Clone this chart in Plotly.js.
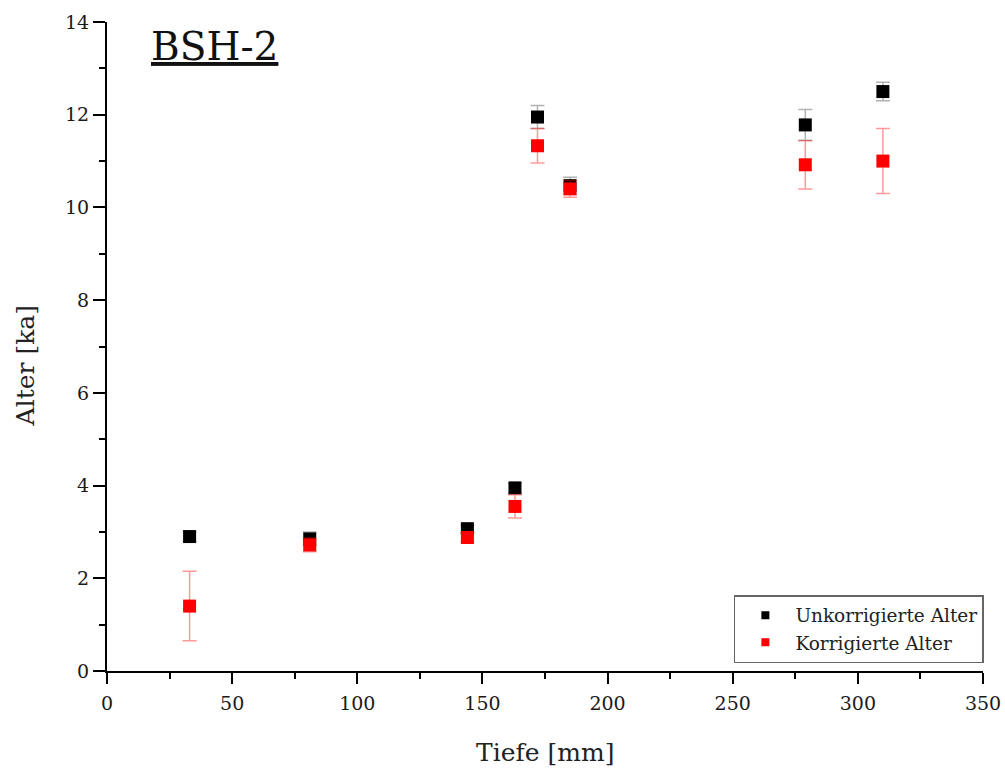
<!DOCTYPE html>
<html>
<head>
<meta charset="utf-8">
<script src="https://cdn.plot.ly/plotly-3.0.1.min.js"></script>
<style>html,body{margin:0;padding:0;background:#fff;}#chart{width:1005px;height:771px;}</style>
</head>
<body>
<div id="chart"></div>
<script>
var depth = [33, 81, 144, 163, 172, 185, 279, 310];
var ageUncorrected = [2.9, 2.85, 3.07, 3.95, 11.95, 10.47, 11.78, 12.5];
var errUncorrected = [0.1, 0.15, 0.08, 0.1, 0.25, 0.18, 0.33, 0.2];
var ageCorrected = [1.4, 2.72, 2.88, 3.55, 11.33, 10.4, 10.92, 11.0];
var errCorrected = [0.75, 0.15, 0.1, 0.25, 0.37, 0.18, 0.52, 0.7];
var seriesNames = ['Unkorrigierte Alter', 'Korrigierte Alter'];
var xTicks = [0, 50, 100, 150, 200, 250, 300, 350];
var yTicks = [0, 2, 4, 6, 8, 10, 12, 14];

var serif = '"DejaVu Serif", serif';

var traces = [
  {
    x: depth, y: ageUncorrected, type: 'scatter', mode: 'markers',
    name: seriesNames[0], showlegend: false,
    marker: {symbol: 'square', size: 13, color: '#000'},
    error_y: {type: 'data', array: errUncorrected, visible: true, color: 'rgba(0,0,0,0.3)', thickness: 1.5, width: 7}
  },
  {
    x: depth, y: ageCorrected, type: 'scatter', mode: 'markers',
    name: seriesNames[1], showlegend: false,
    marker: {symbol: 'square', size: 13, color: '#ff0000'},
    error_y: {type: 'data', array: errCorrected, visible: true, color: 'rgba(255,0,0,0.4)', thickness: 1.5, width: 7}
  },
  {
    x: [null], y: [null], type: 'scatter', mode: 'markers', name: seriesNames[0],
    marker: {symbol: 'square', size: 8, color: '#000'}
  },
  {
    x: [null], y: [null], type: 'scatter', mode: 'markers', name: seriesNames[1],
    marker: {symbol: 'square', size: 8, color: '#ff0000'}
  }
];

var layout = {
  width: 1005, height: 771,
  margin: {l: 107, r: 22, t: 22, b: 100},
  paper_bgcolor: '#fff', plot_bgcolor: '#fff',
  showlegend: true,
  font: {family: serif, color: '#222'},
  xaxis: {
    range: [0, 350], tickvals: xTicks, ticktext: xTicks.map(String),
    showgrid: false, zeroline: false, showline: true, linecolor: '#000', linewidth: 2,
    ticks: 'outside', ticklen: 11, tickwidth: 2, tickcolor: '#000',
    minor: {dtick: 25, tick0: 0, ticks: 'outside', ticklen: 6, tickwidth: 2, tickcolor: '#000'},
    tickfont: {family: serif, size: 19, color: '#1a1a1a'},
    ticklabelstandoff: 3,
    automargin: false
  },
  yaxis: {
    range: [0, 14], tickvals: yTicks, ticktext: yTicks.map(String),
    showgrid: false, zeroline: false, showline: true, linecolor: '#000', linewidth: 2,
    ticks: 'outside', ticklen: 12, tickwidth: 2, tickcolor: '#000',
    minor: {dtick: 1, tick0: 0, ticks: 'outside', ticklen: 6, tickwidth: 2, tickcolor: '#000'},
    tickfont: {family: serif, size: 19, color: '#1a1a1a'},
    automargin: false
  },
  legend: {
    x: 1.001, xanchor: 'right', y: 0.012, yanchor: 'bottom',
    bgcolor: '#fff', bordercolor: '#666', borderwidth: 1.5,
    font: {family: serif, size: 18.5, color: '#222'},
    itemwidth: 50, tracegroupgap: 2
  },
  annotations: [
    {
      text: '<u>BSH-2</u>', xref: 'paper', yref: 'paper', x: 0.048, y: 1.0,
      xanchor: 'left', yanchor: 'top', showarrow: false,
      font: {family: serif, size: 39, color: '#111'}
    },
    {
      text: 'Tiefe [mm]', xref: 'paper', yref: 'paper', x: 0.5, y: -0.125,
      xanchor: 'center', yanchor: 'middle', showarrow: false,
      font: {family: serif, size: 25, color: '#222'}
    },
    {
      text: 'Alter [ka]', xref: 'paper', yref: 'paper', x: -0.092, y: 0.47,
      xanchor: 'center', yanchor: 'middle', showarrow: false, textangle: -90,
      font: {family: serif, size: 25, color: '#222'}
    }
  ]
};

Plotly.newPlot('chart', traces, layout, {displayModeBar: false, staticPlot: true});
</script>
</body>
</html>
